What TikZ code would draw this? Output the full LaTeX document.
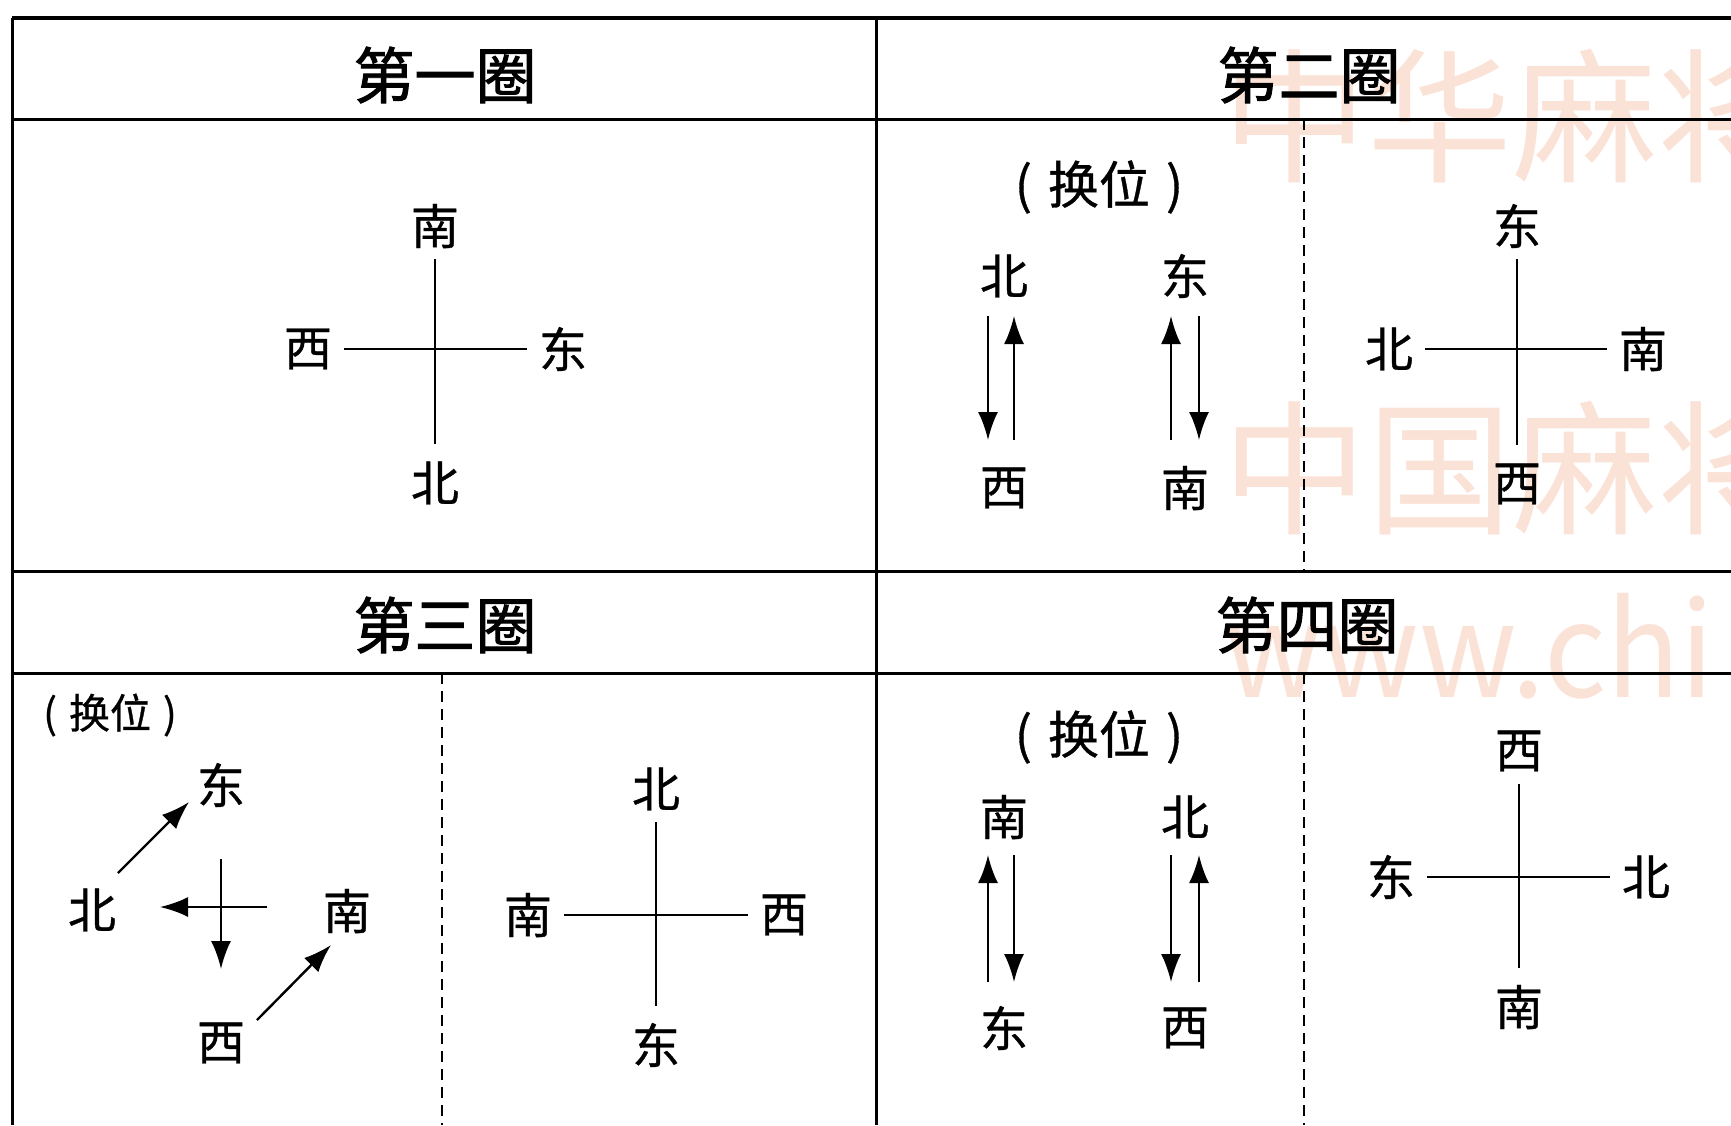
\documentclass[tikz,border=0pt]{standalone}
\usepackage{fontspec}
\setmainfont{Noto Sans CJK SC}
\newfontfamily\labfont[FakeBold=0.7]{Noto Sans CJK SC}
\newfontfamily\headfont[FakeBold=1.6]{Noto Sans CJK SC}
\newfontfamily\wmlatin[FakeStretch=0.93]{Noto Sans CJK SC}
\usetikzlibrary{arrows.meta}
\definecolor{wmcol}{RGB}{251,226,214}
\tikzset{
  outerline/.style={line width=4pt},
  gridline/.style={line width=3pt},
  sepline/.style={line width=2pt, dash pattern=on 11pt off 7pt},
  crossline/.style={line width=2.2pt},
  vcross/.style={crossline, shorten <=33pt, shorten >=39pt},
  hcross/.style={crossline, shorten <=36pt, shorten >=36pt},
  arr/.style={line width=2.4pt, -{Latex[length=28pt,width=20pt]}},
  lab/.style={inner sep=0pt, font=\labfont\fontsize{48}{50}\selectfont},
  head/.style={inner sep=0pt, font=\headfont\fontsize{61}{64}\selectfont},
  swapbig/.style={inner sep=0pt, font=\labfont\fontsize{51}{54}\selectfont},
  swapsmall/.style={inner sep=0pt, font=\labfont\fontsize{41}{44}\selectfont},
  wmtext/.style={inner sep=0pt, text=wmcol, font=\fontsize{145}{150}\selectfont},
  wmlat/.style={inner sep=0pt, text=wmcol, font=\wmlatin\fontsize{131}{140}\selectfont},
}
\begin{document}
\begin{tikzpicture}[x=1pt,y=-1pt]
\useasboundingbox (0,0) rectangle (1731,1125);
% watermark
\begin{scope}
\clip (0,0) rectangle (1731,1125);
\node[wmtext, anchor=west] (wm1) at (1222,116) {中华麻将};
\node[wmtext, anchor=west] (wm2) at (1222,468) {中国麻将};
\node[wmlat, anchor=base west] (wm3) at (1224,697) {www.chi};
\end{scope}
% table
\draw[outerline] (12,18) -- (1731,18);
\draw[gridline] (12,18) -- (12,1125);
\draw[gridline] (876,18) -- (876,1125);
\draw[gridline] (12,119) -- (1731,119);
\draw[gridline] (12,571) -- (1731,571);
\draw[gridline] (12,673) -- (1731,673);
\draw[sepline] (1304,119) -- (1304,571);
\draw[sepline] (442,673) -- (442,1125);
\draw[sepline] (1304,673) -- (1304,1125);
% headers
\node[head] (h1) at (445,75) {第一圈};
\node[head] (h2) at (1309,75) {第二圈};
\node[head] (h3) at (445,625) {第三圈};
\node[head] (h4) at (1307,625) {第四圈};
% quadrant 1
\node[lab] (a1) at (435,226) {南};
\node[lab] (a2) at (435,483) {北};
\node[lab] (a3) at (308,349) {西};
\node[lab] (a4) at (563,349) {东};
\draw[vcross] (a1.center) -- (a2.center);
\draw[hcross] (a3.center) -- (a4.center);
% quadrant 2
\node[swapbig] (b0) at (1099,187) {(\kern16pt 换位\kern16pt)};
\node[lab] (b1) at (1004,276) {北};
\node[lab] (b2) at (1185,276) {东};
\node[lab] (b3) at (1004,488) {西};
\node[lab] (b4) at (1185,488) {南};
\coordinate (b1a) at (988,316); \coordinate (b1b) at (988,440);
\coordinate (b2a) at (1014,440); \coordinate (b2b) at (1014,316);
\coordinate (b3a) at (1171,440); \coordinate (b3b) at (1171,316);
\coordinate (b4a) at (1199,316); \coordinate (b4b) at (1199,440);
\draw[arr] (b1a) -- (b1b);
\draw[arr] (b2a) -- (b2b);
\draw[arr] (b3a) -- (b3b);
\draw[arr] (b4a) -- (b4b);
\node[lab] (b5) at (1517,226) {东};
\node[lab] (b6) at (1517,484) {西};
\node[lab] (b7) at (1389,349) {北};
\node[lab] (b8) at (1643,349) {南};
\draw[vcross] (b5.center) -- (b6.center);
\draw[hcross] (b7.center) -- (b8.center);
% quadrant 3
\node[swapsmall] (c0) at (110,715) {(\kern12pt 换位\kern12pt)};
\node[lab] (c1) at (221,785) {东};
\node[lab] (c2) at (92,910) {北};
\node[lab] (c3) at (347,911) {南};
\node[lab] (c4) at (221,1043) {西};
\coordinate (c1a) at (118,873); \coordinate (c1b) at (189,802);
\coordinate (c2a) at (267,907); \coordinate (c2b) at (160,907);
\coordinate (c3a) at (221,859); \coordinate (c3b) at (221,969);
\coordinate (c4a) at (257,1020); \coordinate (c4b) at (331,945);
\draw[arr] (c1a) -- (c1b);
\draw[arr] (c2a) -- (c2b);
\draw[arr] (c3a) -- (c3b);
\draw[arr] (c4a) -- (c4b);
\node[lab] (c5) at (656,789) {北};
\node[lab] (c6) at (656,1045) {东};
\node[lab] (c7) at (528,915) {南};
\node[lab] (c8) at (784,915) {西};
\draw[vcross] (c5.center) -- (c6.center);
\draw[hcross] (c7.center) -- (c8.center);
% quadrant 4
\node[swapbig] (d0) at (1099,737) {(\kern16pt 换位\kern16pt)};
\node[lab] (d1) at (1004,817) {南};
\node[lab] (d2) at (1185,817) {北};
\node[lab] (d3) at (1004,1028) {东};
\node[lab] (d4) at (1185,1028) {西};
\coordinate (d1a) at (988,982); \coordinate (d1b) at (988,855);
\coordinate (d2a) at (1014,855); \coordinate (d2b) at (1014,982);
\coordinate (d3a) at (1171,855); \coordinate (d3b) at (1171,982);
\coordinate (d4a) at (1199,982); \coordinate (d4b) at (1199,855);
\draw[arr] (d1a) -- (d1b);
\draw[arr] (d2a) -- (d2b);
\draw[arr] (d3a) -- (d3b);
\draw[arr] (d4a) -- (d4b);
\node[lab] (d5) at (1519,751) {西};
\node[lab] (d6) at (1519,1007) {南};
\node[lab] (d7) at (1391,877) {东};
\node[lab] (d8) at (1646,877) {北};
\draw[vcross] (d5.center) -- (d6.center);
\draw[hcross] (d7.center) -- (d8.center);
\end{tikzpicture}
\end{document}
